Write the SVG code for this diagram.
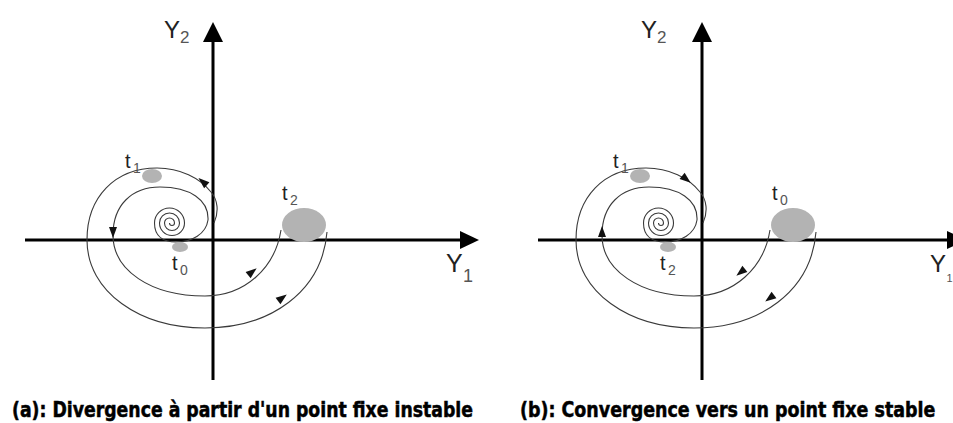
<svg xmlns="http://www.w3.org/2000/svg" xmlns:xlink="http://www.w3.org/1999/xlink" width="953" height="423" viewBox="0 0 953 423">
<style>
.axis{stroke:#000;stroke-width:3;fill:none}
.ah{fill:#000}
.traj{stroke:#3a3a3a;stroke-width:1.1;fill:none}
.blob{fill:#b3b3b3}
.lbl{font-family:"Liberation Sans",Arial,sans-serif;fill:#222}
.sub{font-family:"Liberation Sans",Arial,sans-serif;fill:#555}
.cap{font-family:"DejaVu Sans Condensed","Liberation Sans Narrow",sans-serif;font-weight:bold;font-size:22px;fill:#000;stroke:#000;stroke-width:0.5}
</style>
<defs>
<path id="tip" d="M6,0 L-5,-4 L-5,4 Z" fill="#111"/>
<g id="spiral">
<path class="traj" d="M169.5,223 A2.5,2.5 0 0 0 174.5,223 A5,5 0 0 0 164.5,223 A7.5,7.5 0 0 0 179.5,223 A10,10 0 0 0 159.5,223 A12.5,12.5 0 0 0 184.5,223 A15,15 0 0 0 154.5,223 C154.5,236 163,242 176,242 C192,242 206,234 208,220 C209,200 190,187 160,187 C132,187 113,205 113,235 C113,270 150,296 205,296 C245,296 275,268 281,230"/>
<path class="traj" d="M214,223 C219,212 218,200 211,192 C200,178 180,168 157,168 C115,168 87,197 87,240 C87,292 140,328 205,328 C270,328 322,292 327,232"/>
</g>
</defs>

<g id="panel-a">
<g id="axes-a">
<line class="axis" x1="213" y1="40" x2="213" y2="380"/>
<polygon class="ah" points="213,22 203,42 223,42"/>
<line class="axis" x1="25" y1="240" x2="462" y2="240"/>
<polygon class="ah" points="479,240 460,231 460,249"/>
<text class="lbl" x="164" y="38" font-size="24">Y</text><text class="sub" x="180" y="43" font-size="17">2</text>
<text class="lbl" x="446" y="272" font-size="25">Y</text><text class="sub" x="463" y="282" font-size="18">1</text>
</g>
<g id="connectors-a">
<use xlink:href="#spiral"/>
<use xlink:href="#tip" transform="translate(203,182) rotate(-139)"/>
<use xlink:href="#tip" transform="translate(113,232) rotate(90)"/>
<use xlink:href="#tip" transform="translate(252,272) rotate(-39)"/>
<use xlink:href="#tip" transform="translate(282,298) rotate(-37)"/>
</g>
<g id="t1-a"><ellipse class="blob" cx="152" cy="176" rx="10" ry="7"/><text class="lbl" x="125" y="168" font-size="20">t</text><text class="sub" x="133" y="173" font-size="14">1</text></g>
<g id="t0-a"><ellipse class="blob" cx="180" cy="247" rx="8" ry="5"/><text class="lbl" x="172" y="270" font-size="20">t</text><text class="sub" x="180" y="275" font-size="14">0</text></g>
<g id="t2-a"><ellipse class="blob" cx="304" cy="225" rx="22" ry="17"/><text class="lbl" x="282" y="200" font-size="20">t</text><text class="sub" x="290" y="205" font-size="14">2</text></g>
<text class="cap" transform="translate(12,417) scale(0.86,1)" x="0" y="0" textLength="536" lengthAdjust="spacingAndGlyphs">(a): Divergence à partir d'un point fixe instable</text>
</g>

<g id="panel-b">
<g id="axes-b">
<line class="axis" x1="702" y1="40" x2="702" y2="380"/>
<polygon class="ah" points="702,22 692,42 712,42"/>
<line class="axis" x1="538" y1="240" x2="950" y2="240"/>
<polygon class="ah" points="966,240 947,231 947,249"/>
<text class="lbl" x="641" y="38" font-size="24">Y</text><text class="sub" x="657" y="43" font-size="17">2</text>
<text class="lbl" x="930" y="272" font-size="24">Y</text><text class="sub" x="946.5" y="282" font-size="11">1</text>
</g>
<g id="connectors-b">
<use xlink:href="#spiral" transform="translate(489,0)"/>
<use xlink:href="#tip" transform="translate(686,179) rotate(39)"/>
<use xlink:href="#tip" transform="translate(602,232) rotate(-90)"/>
<use xlink:href="#tip" transform="translate(741,272) rotate(141)"/>
<use xlink:href="#tip" transform="translate(770,298) rotate(143)"/>
</g>
<g id="t1-b"><ellipse class="blob" cx="640" cy="176" rx="10" ry="7"/><text class="lbl" x="613" y="168" font-size="20">t</text><text class="sub" x="621" y="173" font-size="14">1</text></g>
<g id="t2-b"><ellipse class="blob" cx="668" cy="247" rx="8" ry="5"/><text class="lbl" x="660" y="270" font-size="20">t</text><text class="sub" x="668" y="275" font-size="14">2</text></g>
<g id="t0-b"><ellipse class="blob" cx="793" cy="225" rx="22" ry="17"/><text class="lbl" x="772" y="200" font-size="20">t</text><text class="sub" x="780" y="205" font-size="14">0</text></g>
<text class="cap" transform="translate(520,417) scale(0.86,1)" x="0" y="0" textLength="483" lengthAdjust="spacingAndGlyphs">(b): Convergence vers un point fixe stable</text>
</g>
</svg>
